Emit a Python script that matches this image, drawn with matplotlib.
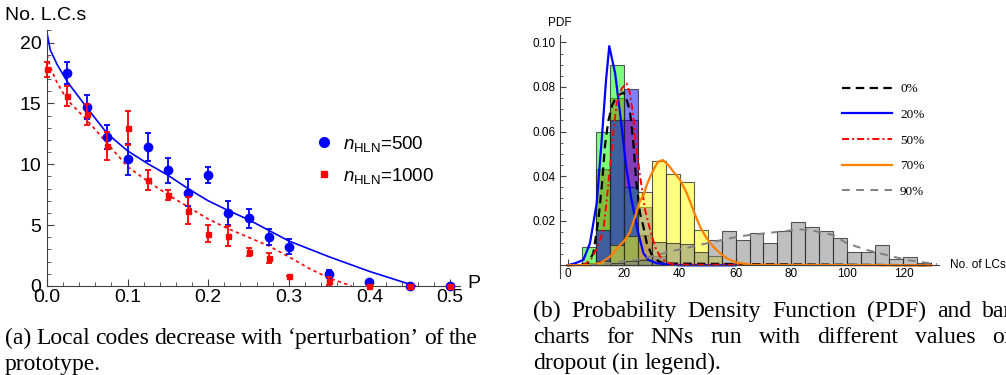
import matplotlib
matplotlib.use('Agg')
import matplotlib.pyplot as plt
from matplotlib.ticker import MultipleLocator, FixedLocator, FormatStrFormatter
from matplotlib.lines import Line2D

W, H = 1006, 375
plt.rcParams['font.family'] = ['Liberation Sans', 'DejaVu Sans']
plt.rcParams['mathtext.fontset'] = 'custom'
plt.rcParams['mathtext.rm'] = 'Liberation Sans'
plt.rcParams['mathtext.it'] = 'Liberation Sans:italic'

# ---- panel (a): local codes vs perturbation P ----
p_500 = [0.025, 0.05, 0.075, 0.1, 0.125, 0.15, 0.175, 0.2, 0.225, 0.25, 0.275, 0.3, 0.35, 0.4, 0.45, 0.5]
lc_500 = [17.5, 14.7, 12.25, 10.4, 11.45, 9.5, 7.67, 9.1, 6.0, 5.55, 4.05, 3.23, 0.98, 0.35, 0.0, 0.0]
err_500 = [0.9, 1.0, 1.0, 1.25, 1.15, 1.0, 1.1, 0.65, 1.0, 0.8, 0.65, 0.6, 0.3, 0.1, 0.0, 0.0]

p_1000 = [0.0, 0.025, 0.05, 0.075, 0.1, 0.125, 0.15, 0.175, 0.2, 0.225, 0.25, 0.275, 0.3, 0.35, 0.4, 0.45, 0.5]
lc_1000 = [17.8, 15.6, 14.1, 11.5, 13.0, 8.7, 7.48, 6.2, 4.3, 4.1, 2.8, 2.3, 0.8, 0.4, 0.0, 0.0, 0.0]
err_1000 = [0.6, 0.85, 0.85, 1.15, 1.4, 0.8, 0.4, 1.1, 0.7, 0.85, 0.3, 0.4, 0.0, 0.3, 0.0, 0.0, 0.0]

fit500_p = [0, 0.004, 0.0125, 0.025, 0.05, 0.075, 0.1, 0.125, 0.15, 0.175, 0.2, 0.225, 0.25, 0.3, 0.35, 0.4, 0.457]
fit500_lc = [20.8, 19.4, 18.2, 16.8, 14.6, 12.5, 11.1, 10.05, 9.1, 8.0, 7.0, 6.2, 5.45, 3.7, 2.4, 1.2, 0.0]
fit1000_p = [0, 0.004, 0.0125, 0.025, 0.05, 0.075, 0.1, 0.125, 0.15, 0.175, 0.2, 0.225, 0.25, 0.275, 0.3, 0.325, 0.35, 0.378]
fit1000_lc = [19.0, 18.0, 16.7, 15.3, 13.6, 11.7, 9.8, 8.6, 7.5, 6.5, 5.5, 4.7, 4.0, 3.3, 2.4, 1.45, 0.65, 0.0]

# ---- panel (b): histograms + PDFs of number of LCs ----
bin_left = list(range(0, 130, 5))
hist_0 = [0, 0.001, 0.043, 0.075, 0.065, 0.0135, 0.002] + [0] * 19
hist_20 = [0, 0.008, 0.06, 0.09, 0.035, 0.003] + [0] * 20
hist_50 = [0, 0, 0.016, 0.065, 0.079, 0.026, 0.004] + [0] * 19
hist_70 = [0, 0, 0.002, 0.009, 0.013, 0.033, 0.047, 0.041, 0.0375, 0.016, 0.0042, 0.001] + [0] * 14
hist_90 = [0, 0, 0, 0.001, 0.002, 0.0025, 0.0105, 0.01, 0.0095, 0.006, 0.0113, 0.0152, 0.0113,
           0.0146, 0.0099, 0.0152, 0.0193, 0.017, 0.0152, 0.0121, 0.006, 0.006, 0.009, 0.0027, 0.0039, 0.0012]

pdf0_x = [0, 7, 9.2, 11.0, 12.2, 13.4, 14.6, 16, 17, 18.5, 20, 21.1, 22.3, 23.5, 24.5, 25.9, 27.1, 28.3, 30.1, 31.9, 34, 130]
pdf0_y = [0, 0.0005, 0.0054, 0.0203, 0.035, 0.054, 0.065, 0.072, 0.0745, 0.0765, 0.0775, 0.0745, 0.069, 0.055, 0.038,
          0.0233, 0.0173, 0.0099, 0.0046, 0.0024, 0.0008, 0]
pdf20_x = [0, 2.7, 5.65, 8.0, 10.4, 12.2, 13.75, 14.9, 17.0, 18.75, 21.1, 22.9, 25.3, 27.1, 28.9, 31.9, 40, 60]
pdf20_y = [0, 0.0009, 0.0024, 0.0099, 0.0278, 0.0562, 0.0831, 0.0983, 0.0861, 0.0682, 0.0427, 0.029, 0.0143, 0.0054,
           0.0024, 0.0009, 0, 0]
pdf50_x = [0, 6, 8.6, 11, 12.8, 14, 15.2, 16.4, 17.6, 19.4, 21.1, 22.3, 23.5, 24.1, 25.9, 27.7, 29.5, 31.25, 33, 35, 38, 130]
pdf50_y = [0, 0.0003, 0.0031, 0.009, 0.0158, 0.0293, 0.0442, 0.06, 0.073, 0.0794, 0.0816, 0.0771, 0.0666, 0.0577,
           0.04, 0.0248, 0.0158, 0.0083, 0.004, 0.0015, 0.0003, 0]
pdf70_x = [0, 8, 11.6, 15.2, 18.75, 20.5, 22.3, 24.1, 25.9, 27.1, 28.3, 29.5, 31.25, 32.4, 34, 36, 37.8, 40.2, 42.6,
           44.9, 47.3, 49.7, 52.1, 54.5, 56.9, 60.4, 66, 130]
pdf70_y = [0, 0.0001, 0.0009, 0.0039, 0.0091, 0.0113, 0.015, 0.0218, 0.029, 0.0315, 0.036, 0.0397, 0.0442, 0.0465,
           0.0472, 0.045, 0.042, 0.0383, 0.0323, 0.0248, 0.0173, 0.0121, 0.0083, 0.0054, 0.0031, 0.0012, 0.0002, 0]
pdf90_x = [8, 15, 20, 24.8, 31.9, 37.8, 45, 54.5, 61.6, 65.2, 75.9, 83, 86.6, 94.9, 99.7, 106.9, 114, 121.1, 129.5, 132]
pdf90_y = [0, 0.0008, 0.0019, 0.0024, 0.0046, 0.0065, 0.0085, 0.0112, 0.013, 0.0136, 0.0151, 0.0161, 0.0158, 0.0136,
           0.0099, 0.0069, 0.0046, 0.0024, 0.0009, 0.0005]

dropout_labels = ['0%', '20%', '50%', '70%', '90%']

caption_a = ['(a) Local codes decrease with \u2018perturbation\u2019 of the', 'prototype.']
caption_b = ['(b) Probability Density Function (PDF) and bar',
             'charts for NNs run with different values of',
             'dropout (in legend).']

fig = plt.figure(figsize=(W / 100, H / 100), dpi=100)
axis_col = '#404040'

# ---------------- left panel ----------------
ax1 = fig.add_axes([47 / W, 1 - 286 / H, 413 / W, 256 / H])
ax1.plot(fit500_p, fit500_lc, color='blue', lw=1.2, zorder=2)
ax1.plot(fit1000_p, fit1000_lc, color='red', lw=1.2, ls=(0, (2, 2)), zorder=2)
ax1.errorbar(p_500, lc_500, yerr=err_500, fmt='o', color='blue', ms=6, elinewidth=1.3,
             capsize=2.5, capthick=1.3, clip_on=False, zorder=3)
ax1.errorbar(p_1000, lc_1000, yerr=err_1000, fmt='s', color='red', ms=3.6, elinewidth=1.3,
             capsize=2.5, capthick=1.3, clip_on=False, zorder=4)
ax1.set_xlim(0, 0.5124)
ax1.set_ylim(0, 21.03)
for s in ['top', 'right']:
    ax1.spines[s].set_visible(False)
for s in ['left', 'bottom']:
    ax1.spines[s].set_color(axis_col)
ax1.xaxis.set_major_locator(MultipleLocator(0.1))
ax1.xaxis.set_minor_locator(MultipleLocator(0.02))
ax1.xaxis.set_major_formatter(FormatStrFormatter('%.1f'))
ax1.yaxis.set_major_locator(MultipleLocator(5))
ax1.yaxis.set_minor_locator(MultipleLocator(1))
ax1.tick_params(which='both', direction='in', color=axis_col, labelsize=14)
ax1.tick_params(which='major', length=5)
ax1.tick_params(which='minor', length=3)
ax1.tick_params(axis='x', pad=2)
ax1.tick_params(axis='y', pad=4)

leg_a = [Line2D([], [], marker='o', color='blue', ls='none', ms=7),
         Line2D([], [], marker='s', color='red', ls='none', ms=4.5)]
ax1.legend(leg_a, ['$n_{\\mathrm{HLN}}$=500', '$n_{\\mathrm{HLN}}$=1000'], loc='upper left',
           bbox_to_anchor=(315 / W, 1 - 134 / H), bbox_transform=fig.transFigure,
           frameon=False, fontsize=13.5, handlelength=1.0, handletextpad=0.5,
           labelspacing=0.62, borderpad=0, borderaxespad=0, numpoints=1)
fig.text(5 / W, 1 - 15 / H, 'No. L.C.s', fontsize=14, va='center', ha='left')
fig.text(467 / W, 1 - 284 / H, 'P', fontsize=14, va='center', ha='left')

# ---------------- right panel ----------------
ax2 = fig.add_axes([560 / W, 1 - 278 / H, 379 / W, 243 / H])
hist_sets = [(hist_0, (1, 0, 0, 0.5)), (hist_20, (0, 1, 0, 0.5)), (hist_50, (0, 0, 1, 0.5)),
             (hist_70, (1, 1, 0, 0.5)), (hist_90, (0.5, 0.5, 0.5, 0.5))]
for heights, fc in hist_sets:
    xs = [b for b, h in zip(bin_left, heights) if h > 0]
    hs = [h for h in heights if h > 0]
    ax2.bar(xs, hs, width=5, align='edge', facecolor=fc,
            edgecolor=(0.15, 0.15, 0.15, 0.75), linewidth=0.8, zorder=2)

ax2.plot(pdf0_x, pdf0_y, color='black', lw=1.6, ls=(0, (3.8, 2.4)), zorder=3)
ax2.plot(pdf20_x, pdf20_y, color='#0000ff', lw=1.6, zorder=3)
ax2.plot(pdf50_x, pdf50_y, color='#ff0000', lw=1.4, ls=(0, (3.6, 1.6, 1, 1.6)), zorder=3)
ax2.plot(pdf70_x, pdf70_y, color='#ff8000', lw=1.6, zorder=3)
ax2.plot(pdf90_x, pdf90_y, color='#808080', lw=1.4, ls=(0, (4, 3.3)), zorder=3)

ax2.set_xlim(-2.7, 132.7)
ax2.set_ylim(-0.0057, 0.1033)
for s in ['top', 'right']:
    ax2.spines[s].set_visible(False)
ax2.spines['bottom'].set_position(('data', 0))
for s in ['left', 'bottom']:
    ax2.spines[s].set_color(axis_col)
    ax2.spines[s].set_zorder(5)
ax2.xaxis.set_major_locator(FixedLocator([0, 20, 40, 60, 80, 100, 120]))
ax2.xaxis.set_minor_locator(MultipleLocator(5))
ax2.yaxis.set_major_locator(FixedLocator([0.02, 0.04, 0.06, 0.08, 0.10]))
ax2.yaxis.set_major_formatter(FormatStrFormatter('%.2f'))
ax2.yaxis.set_minor_locator(FixedLocator([i * 0.005 for i in range(21)]))
ax2.tick_params(which='both', direction='in', color=axis_col, labelsize=8.5)
ax2.tick_params(which='major', length=4)
ax2.tick_params(which='minor', length=2)
ax2.tick_params(axis='x', pad=2)
ax2.tick_params(axis='y', pad=3)

leg_b = [Line2D([], [], color='black', lw=1.6, ls=(0, (3.8, 2.4))),
         Line2D([], [], color='#0000ff', lw=1.6),
         Line2D([], [], color='#ff0000', lw=1.4, ls=(0, (3.6, 1.6, 1, 1.6))),
         Line2D([], [], color='#ff8000', lw=1.6),
         Line2D([], [], color='#808080', lw=1.4, ls=(0, (4, 3.3)))]
ax2.legend(leg_b, dropout_labels, loc='upper left', bbox_to_anchor=(842 / W, 1 - 83 / H),
           bbox_transform=fig.transFigure, frameon=False,
           prop={'family': 'Liberation Serif', 'size': 9.5}, handlelength=3.8, handletextpad=0.6,
           labelspacing=1.02, borderpad=0, borderaxespad=0)
fig.text(560 / W, 1 - 22.7 / H, 'PDF', fontsize=8.5, va='center', ha='center')
fig.text(950 / W, 1 - 265 / H, 'No. of LCs', fontsize=8.5, va='center', ha='left')


# ---------------- captions ----------------
def caption_line(text, x0, y0, width, justify):
    r = fig.canvas.get_renderer()
    words = text.split(' ')
    parts = [fig.text(0, 0, w, fontsize=17, family='Liberation Serif', va='baseline') for w in words]
    widths = [t.get_window_extent(r).width for t in parts]
    if justify and len(words) > 1:
        gap = (width - sum(widths)) / (len(words) - 1)
    else:
        gap = 17 * 100 / 72 * 0.25
    x = x0
    for t, w in zip(parts, widths):
        t.set_position((x / W, 1 - y0 / H))
        x += w + gap


caption_line(caption_a[0], 5, 344, 473, True)
caption_line(caption_a[1], 5, 370, 473, False)
caption_line(caption_b[0], 533, 317, 479, True)
caption_line(caption_b[1], 533, 343, 479, True)
caption_line(caption_b[2], 533, 369, 479, False)

fig.savefig('out.png', dpi=100)
